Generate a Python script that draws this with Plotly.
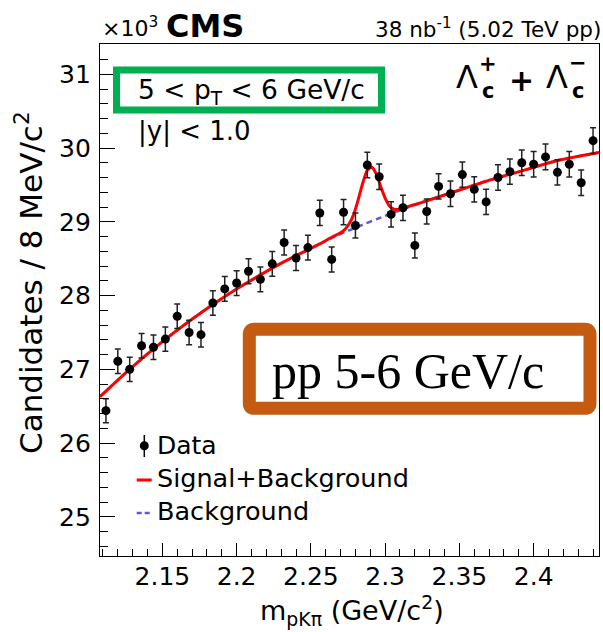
import plotly.graph_objects as go
import math

# ---------------- data ----------------
bin_centers = [2.112, 2.120, 2.128, 2.136, 2.144, 2.152, 2.160, 2.168, 2.176, 2.184,
               2.192, 2.200, 2.208, 2.216, 2.224, 2.232, 2.240, 2.248, 2.256, 2.264,
               2.272, 2.280, 2.288, 2.296, 2.304, 2.312, 2.320, 2.328, 2.336, 2.344,
               2.352, 2.360, 2.368, 2.376, 2.384, 2.392, 2.400, 2.408, 2.416, 2.424,
               2.432, 2.440]
counts_k = [26.44, 27.11, 27.00, 27.32, 27.30, 27.41, 27.72, 27.50, 27.47, 27.90,
            28.09, 28.17, 28.33, 28.22, 28.43, 28.72, 28.51, 28.65, 29.12, 28.49,
            29.13, 28.95, 29.77, 29.61, 29.10, 29.19, 28.68, 29.14, 29.48, 29.38,
            29.64, 29.44, 29.27, 29.60, 29.68, 29.80, 29.78, 29.88, 29.67, 29.78,
            29.53, 30.10]
errors_k = [math.sqrt(c * 1000.0) / 1000.0 for c in counts_k]

# fitted curves
sb_x = [2.108, 2.124, 2.140, 2.156, 2.172, 2.184, 2.200, 2.216, 2.232, 2.248,
        2.256, 2.264, 2.270, 2.273, 2.276, 2.279, 2.282, 2.285, 2.288, 2.291,
        2.294, 2.297, 2.300, 2.303, 2.306, 2.310, 2.316, 2.3228, 2.344, 2.368,
        2.392, 2.416, 2.444]
sb_y = [26.63, 26.93, 27.21, 27.47, 27.71, 27.88, 28.09, 28.28, 28.46, 28.62,
        28.70, 28.79, 28.85, 28.90, 28.98, 29.11, 29.31, 29.53, 29.70, 29.74,
        29.65, 29.48, 29.32, 29.21, 29.17, 29.17, 29.21, 29.25, 29.39, 29.55,
        29.69, 29.83, 29.94]
bkg_x = [2.108, 2.124, 2.140, 2.156, 2.172, 2.184, 2.200, 2.216, 2.232, 2.248,
         2.256, 2.264, 2.280, 2.296, 2.312, 2.3228, 2.344, 2.368, 2.392, 2.416, 2.444]
bkg_y = [26.63, 26.93, 27.21, 27.47, 27.71, 27.88, 28.09, 28.28, 28.46, 28.62,
         28.70, 28.78, 28.92, 29.05, 29.17, 29.25, 29.39, 29.55, 29.69, 29.83, 29.94]

x_tickvals = [2.15, 2.2, 2.25, 2.3, 2.35, 2.4]
x_ticktext = ["2.15", "2.2", "2.25", "2.3", "2.35", "2.4"]
y_tickvals = [25, 26, 27, 28, 29, 30, 31]
y_ticktext = ["25", "26", "27", "28", "29", "30", "31"]

# ---------------- layout helpers ----------------
W, H = 603, 632
L, R, T, B = 100, 599, 44, 556


def px(x):
    return (x - L) / (R - L)


def py(y):
    return (B - y) / (B - T)


FONT = "DejaVu Sans"
BLUE = "#5b5be0"
RED = "#ff0000"

fig = go.Figure()
fig.add_trace(go.Scatter(x=bkg_x, y=bkg_y, mode="lines", line=dict(color=BLUE, width=2.5, dash="6px,4px", shape="spline", smoothing=0.6),
                         name="Background", showlegend=False, hoverinfo="skip"))
fig.add_trace(go.Scatter(x=sb_x, y=sb_y, mode="lines", line=dict(color=RED, width=3, shape="spline", smoothing=0.6),
                         name="Signal+Background", showlegend=False, hoverinfo="skip"))
fig.add_trace(go.Scatter(x=bin_centers, y=counts_k, mode="markers", name="Data", showlegend=False,
                         marker=dict(color="black", size=9),
                         error_y=dict(type="data", array=errors_k, color="#222222", thickness=1.5, width=3)))

axis_common = dict(showline=True, linecolor="black", linewidth=1.2, mirror=True, showgrid=False, zeroline=False,
                   ticks="inside", tickcolor="black", tickwidth=1.2,
                   tickfont=dict(family=FONT, size=25, color="black"))
fig.update_xaxes(range=[2.108, 2.444], tickmode="array", tickvals=x_tickvals, ticktext=x_ticktext, ticklen=13,
                 ticklabelstandoff=-2,
                 minor=dict(ticks="inside", ticklen=7, tickmode="linear", tick0=2.11, dtick=0.01, tickcolor="black", tickwidth=1.2),
                 **axis_common)
fig.update_yaxes(range=[24.47, 31.41], tickmode="array", tickvals=y_tickvals, ticktext=y_ticktext, ticklen=15,
                 ticklabelstandoff=3,
                 minor=dict(ticks="inside", ticklen=7.5, tickmode="linear", tick0=25, dtick=0.2, tickcolor="black", tickwidth=1.2),
                 **axis_common)

shapes = []
# green box
shapes.append(dict(type="rect", xref="paper", yref="paper", x0=px(116.5), x1=px(381.5), y0=py(110), y1=py(70),
                   line=dict(color="#00b050", width=7), fillcolor="rgba(0,0,0,0)"))
# orange rounded box
x0, x1, y0, y1, r = 249.3, 590.0, 329.3, 408.3, 5.0
pts = [("M", x0 + r, y0), ("L", x1 - r, y0), ("Q", x1, y0, x1, y0 + r), ("L", x1, y1 - r), ("Q", x1, y1, x1 - r, y1),
       ("L", x0 + r, y1), ("Q", x0, y1, x0, y1 - r), ("L", x0, y0 + r), ("Q", x0, y0, x0 + r, y0)]
path = ""
for p in pts:
    cmd = p[0]
    coords = p[1:]
    s = cmd
    for i in range(0, len(coords), 2):
        s += f"{px(coords[i]):.5f},{py(coords[i+1]):.5f} "
    path += s
path += "Z"
shapes.append(dict(type="path", xref="paper", yref="paper", path=path, line=dict(color="#c55a11", width=13),
                   fillcolor="white"))
# legend symbols
shapes.append(dict(type="line", xref="paper", yref="paper", x0=px(144.3), x1=px(144.3), y0=py(435), y1=py(457),
                   line=dict(color="black", width=1.5)))
shapes.append(dict(type="circle", xref="paper", yref="paper", x0=px(139.8), x1=px(148.8), y0=py(441.2), y1=py(450.2),
                   line=dict(color="black", width=0), fillcolor="black"))
shapes.append(dict(type="line", xref="paper", yref="paper", x0=px(136.7), x1=px(151.7), y0=py(480), y1=py(480),
                   line=dict(color=RED, width=3)))
shapes.append(dict(type="line", xref="paper", yref="paper", x0=px(136.7), x1=px(151.7), y0=py(513), y1=py(513),
                   line=dict(color=BLUE, width=2.5, dash="5px,3px")))

ann = []


def text(x, y, s, size, xanchor="left", yanchor="middle", family=FONT, color="black", angle=0):
    ann.append(dict(x=px(x), y=py(y), xref="paper", yref="paper", text=s, showarrow=False, xanchor=xanchor,
                    yanchor=yanchor, textangle=angle, font=dict(family=family, size=size, color=color), borderpad=0))


text(101, 27, "×10<sup>3</sup>", 22)
text(165, 26, "<b>CMS</b>", 32)
text(602, 28, "38 nb<sup>-1</sup> (5.02 TeV pp)", 21.5, xanchor="right")
text(137, 91, "5 < p<sub>T</sub> < 6 GeV/c", 26.5)
text(137, 131, "|y| < 1.0", 26)
# Lambda_c labels
text(467, 77, "Λ", 32, xanchor="center")
text(488, 91, "<b>c</b>", 21, xanchor="center")
text(488, 64, "<b>+</b>", 21, xanchor="center")
text(521, 80, "<b>+</b>", 30, xanchor="center")
text(557, 77, "Λ", 32, xanchor="center")
text(578, 91, "<b>c</b>", 21, xanchor="center")
text(578, 63, "<b>−</b>", 21, xanchor="center")
# orange box text
text(408, 371, "pp 5-6 GeV/c", 50, xanchor="center", family="Liberation Serif")
# legend texts
text(156, 445, "Data", 25)
text(156, 478, "Signal+Background", 25.5)
text(156, 511, "Background", 25.5)
# axis titles
text(352, 610, "m<sub>pKπ</sub> (GeV/c<sup>2</sup>)", 27, xanchor="center")
text(29, 283, "Candidates / 8 MeV/c<sup>2</sup>", 31, xanchor="center", angle=-90)

fig.update_layout(width=W, height=H, margin=dict(l=L, r=W - R, t=T, b=H - B), paper_bgcolor="white",
                  plot_bgcolor="white", showlegend=False, shapes=shapes, annotations=ann)

fig.write_html("out.html")
